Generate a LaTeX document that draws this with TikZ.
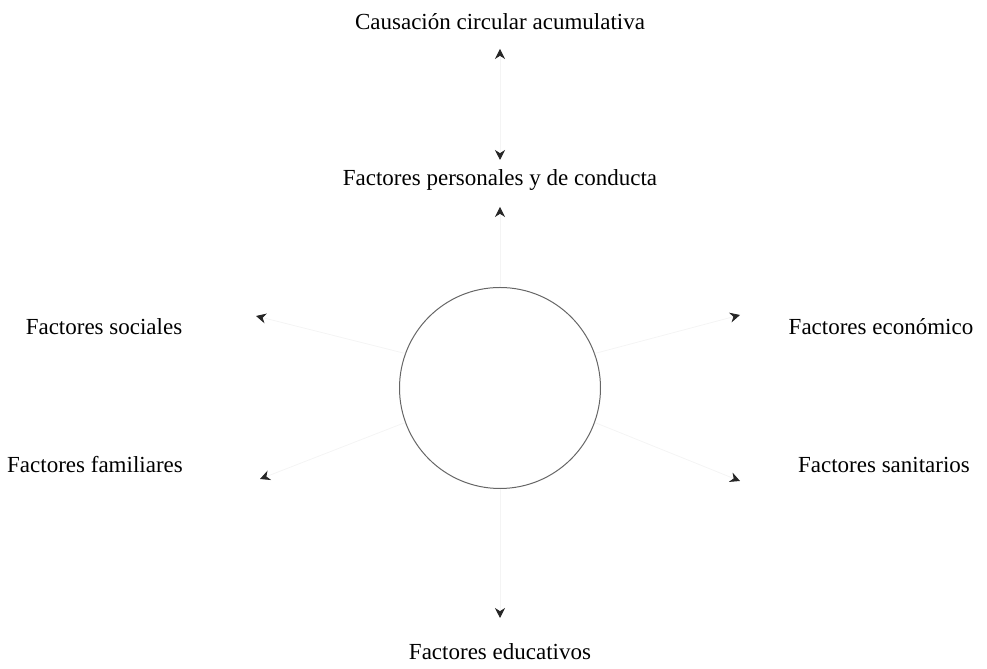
\documentclass[tikz,border=0pt]{standalone}
\usepackage{fontspec}
\setmainfont{Liberation Serif}
\usetikzlibrary{arrows.meta}
\definecolor{trace}{HTML}{F4F4F4}

\begin{document}
\begin{tikzpicture}[x=0.5pt,y=0.5pt,>={Stealth[length=5pt,width=5pt,inset=1.6pt,color=black!85]},
 lbl/.style={font=\fontsize{11.5}{13}\selectfont,inner sep=1pt},
 faint/.style={draw=trace,line width=0.4pt}]
\useasboundingbox (0,0) rectangle (987,669);
% centre
\node[draw=black!60,line width=0.5pt,circle,minimum size=100.5pt,inner sep=0pt] (core) at (500,281) {};
% labels
\node[lbl] (causa) at (500,647) {Causación circular acumulativa};
\node[lbl] (pers) at (500,489) {Factores personales y de conducta};
\node[lbl] (soc) at (104,342) {Factores sociales};
\node[lbl] (econ) at (881,342) {Factores económico};
\node[lbl] (fam) at (95,204) {Factores familiares};
\node[lbl] (sanit) at (884,204) {Factores sanitarios};
\node[lbl] (educ) at (500,17) {Factores educativos};
% arrow ends
\coordinate (causaTip) at (500,620);
\coordinate (persTop) at (500,509);
\coordinate (persTip) at (500,462);
\coordinate (socTip) at (256,353);
\coordinate (econTip) at (740,354);
\coordinate (famTip) at (260,190);
\coordinate (sanitTip) at (740,188);
\coordinate (educTip) at (500,51);
% connectors
\draw[faint,<->] (persTop) -- (causaTip);
\draw[faint,->] (core.north) -- (persTip);
\draw[faint,->] (core.160) -- (socTip);
\draw[faint,->] (core.20) -- (econTip);
\draw[faint,->] (core.200) -- (famTip);
\draw[faint,->] (core.340) -- (sanitTip);
\draw[faint,->] (core.south) -- (educTip);
\end{tikzpicture}
\end{document}
